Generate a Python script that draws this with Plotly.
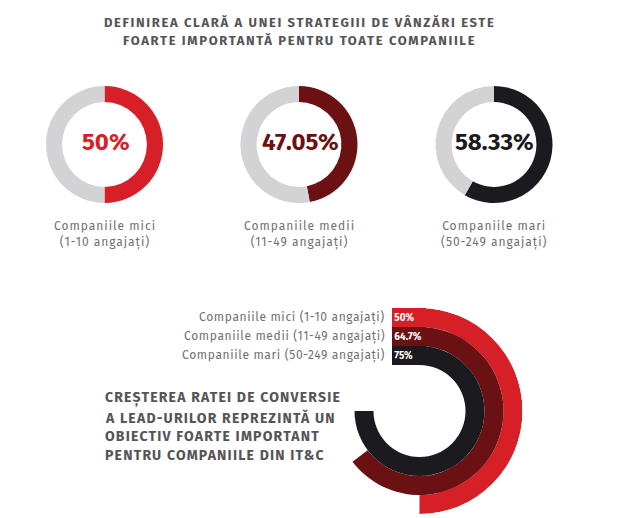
import plotly.graph_objects as go

# page has an 8px body margin, so the figure is a bit smaller than the window
OFF = 8
W, H = 620 - OFF, 518 - OFF

# top row: clear sales strategy is very important (share of companies)
categories = ["Companiile mici", "Companiile medii", "Companiile mari"]
size_ranges = ["(1-10 angajați)", "(11-49 angajați)", "(50-249 angajați)"]
strategy_pct = [50, 47.05, 58.33]

# bottom: raising lead conversion rate is an important objective
conversion_pct = [50, 64.7, 75]

colors = ["#d71f27", "#6b1013", "#1b1a1e"]
track_gray = "#d3d3d5"

title_top = ["DEFINIREA CLARĂ A UNEI STRATEGIII DE VÂNZĂRI ESTE",
             "FOARTE IMPORTANTĂ PENTRU TOATE COMPANIILE"]
title_bottom = ["CREȘTEREA RATEI DE CONVERSIE",
                "A LEAD-URILOR REPREZINTĂ UN",
                "OBIECTIV FOARTE IMPORTANT",
                "PENTRU COMPANIILE DIN IT&amp;C"]

FONT = "Fira Sans, Roboto, Open Sans, sans-serif"
TEXT_GRAY = "#555558"
LABEL_GRAY = "#707072"


# window pixel -> paper coords
def px(x):
    return (x - OFF) / W


def py(y):
    return 1 - (y - OFF) / H


def spaced(t, ls):
    return f"<span style='letter-spacing:{ls}px'>{t}</span>"


fig = go.Figure()
annotations = []

# donuts
donut_cx = [104.5, 299, 494]
donut_cy = 144.5
donut_r = 58.5
for i, v in enumerate(strategy_pct):
    cx = donut_cx[i]
    fig.add_trace(go.Pie(
        values=[v, 100 - v],
        marker=dict(colors=[colors[i], track_gray], line=dict(width=0)),
        hole=0.725,
        sort=False,
        direction="clockwise",
        rotation=0,
        textinfo="none",
        hoverinfo="skip",
        showlegend=False,
        domain=dict(x=[px(cx - donut_r), px(cx + donut_r)],
                    y=[py(donut_cy + donut_r), py(donut_cy - donut_r)]),
    ))
    annotations.append(dict(
        x=px(cx + 1), y=py(donut_cy - 2), xref="paper", yref="paper",
        text=f"<b>{v:g}%</b>", showarrow=False,
        font=dict(family=FONT, size=24, color=colors[i]),
        xanchor="center", yanchor="middle"))
    annotations.append(dict(
        x=px(cx), y=py(234.5), xref="paper", yref="paper",
        text=spaced(categories[i], 1) + "<br>" + spaced(size_ranges[i], 1),
        showarrow=False, align="center",
        font=dict(family=FONT, size=12, color=LABEL_GRAY),
        xanchor="center", yanchor="middle"))

# top title
for k, line in enumerate(title_top):
    annotations.append(dict(
        x=px(299.5), y=py(22 + k * 18.5), xref="paper", yref="paper",
        text="<b>" + spaced(line, 1.65) + "</b>", showarrow=False,
        font=dict(family=FONT, size=13, color=TEXT_GRAY),
        xanchor="center", yanchor="middle"))

# radial bars
polar_cx, polar_cy, polar_r = 419.5, 411, 103
ring_inner, ring_band = 46, 19
n = len(conversion_pct)
bases = [ring_inner + (n - 1 - i) * ring_band for i in range(n)]
for i, v in enumerate(conversion_pct):
    fig.add_trace(go.Barpolar(
        r=[ring_band], base=[bases[i]],
        theta=[v * 3.6 / 2], width=[v * 3.6],
        marker=dict(color=colors[i], line=dict(width=0)),
        hoverinfo="skip", showlegend=False,
    ))
    mid_y = polar_cy - (bases[i] + ring_band / 2)
    annotations.append(dict(
        x=px(392), y=py(mid_y), xref="paper", yref="paper",
        text=f"<b>&nbsp;{v:g}%</b>", showarrow=False,
        width=34, height=ring_band, align="left", valign="middle",
        bgcolor=colors[i], borderpad=0, borderwidth=0,
        font=dict(family=FONT, size=10, color="white"),
        xanchor="left", yanchor="middle"))
    annotations.append(dict(
        x=px(387), y=py(mid_y), xref="paper", yref="paper",
        text=spaced(f"{categories[i]} {size_ranges[i]}", 0.65), showarrow=False,
        font=dict(family=FONT, size=12, color=LABEL_GRAY),
        xanchor="right", yanchor="middle"))

# bottom title
for k, line in enumerate(title_bottom):
    annotations.append(dict(
        x=px(103), y=py(398.3 + k * 19.2), xref="paper", yref="paper",
        text="<b>" + spaced(line, 1.2) + "</b>", showarrow=False,
        font=dict(family=FONT, size=14, color=TEXT_GRAY),
        xanchor="left", yanchor="middle"))

fig.update_layout(
    width=W, height=H,
    margin=dict(l=0, r=0, t=0, b=0),
    paper_bgcolor="white",
    plot_bgcolor="white",
    showlegend=False,
    annotations=annotations,
    polar=dict(
        domain=dict(x=[px(polar_cx - polar_r), px(polar_cx + polar_r)],
                    y=[py(polar_cy + polar_r), py(polar_cy - polar_r)]),
        bgcolor="white",
        barmode="overlay",
        radialaxis=dict(range=[0, polar_r], visible=False),
        angularaxis=dict(rotation=90, direction="clockwise", visible=False),
    ),
)

fig.write_html("out.html")
